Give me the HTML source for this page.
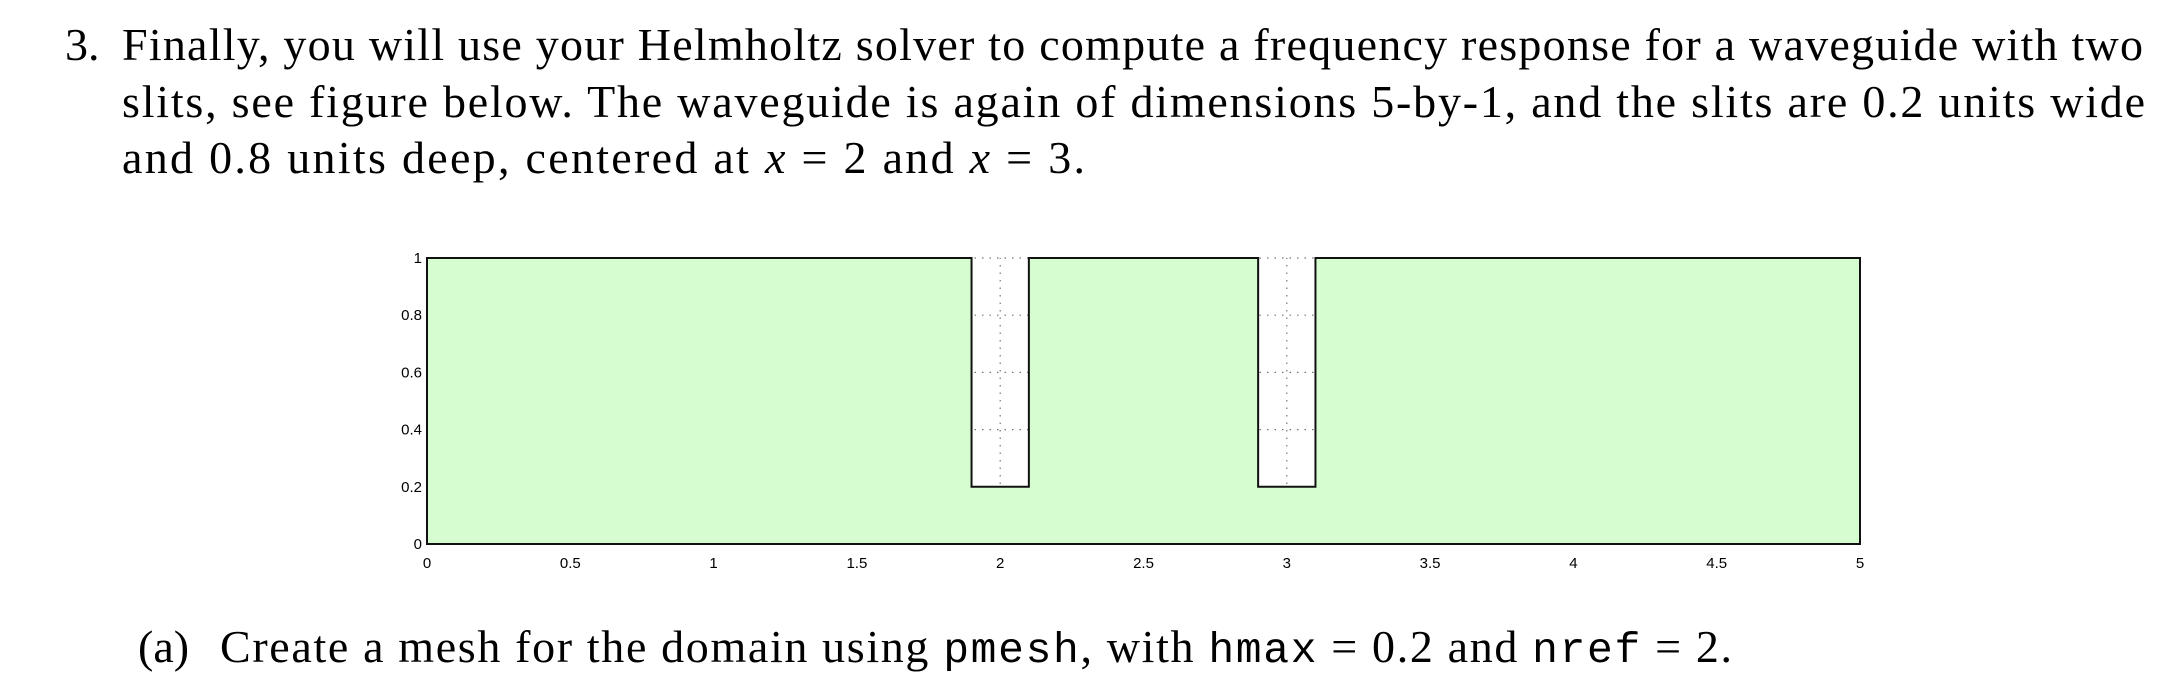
<!DOCTYPE html>
<html><head><meta charset="utf-8"><style>
html,body{margin:0;padding:0;background:#fff;width:2184px;height:686px;overflow:hidden}
svg{display:block}
.tx{font-family:"Liberation Serif",serif;font-size:46px;fill:#000}
.mono{font-family:"Liberation Mono",monospace;font-size:43px}
.tick{font-family:"Liberation Sans",sans-serif;font-size:15px;fill:#000}
</style></head><body>
<svg id="fig" width="2184" height="686" viewBox="0 0 2184 686" xmlns="http://www.w3.org/2000/svg">
  <text class="tx" x="65" y="60">3.</text>
  <text class="tx" x="122" y="60" textLength="2021" lengthAdjust="spacing">Finally, you will use your Helmholtz solver to compute a frequency response for a waveguide with two</text>
  <text class="tx" x="122" y="117" textLength="2023" lengthAdjust="spacing">slits, see figure below.  The waveguide is again of dimensions 5-by-1, and the slits are 0.2 units wide</text>
  <text class="tx" x="122" y="173" textLength="963" lengthAdjust="spacing">and 0.8 units deep, centered at <tspan font-style="italic">x</tspan> = 2 and <tspan font-style="italic">x</tspan> = 3.</text>
  <g id="chart"></g>
  <text class="tx" x="138" y="662">(a)</text>
  <text class="tx" x="220" y="662" textLength="1512" lengthAdjust="spacing">Create a mesh for the domain using <tspan class="mono">pmesh</tspan>, with <tspan class="mono">hmax</tspan> = 0.2 and <tspan class="mono">nref</tspan> = 2.</text>
</svg>
<script>
const xTicks=[0,0.5,1,1.5,2,2.5,3,3.5,4,4.5,5];
const xTickLabels=["0","0.5","1","1.5","2","2.5","3","3.5","4","4.5","5"];
const yTicks=[0,0.2,0.4,0.6,0.8,1];
const yTickLabels=["0","0.2","0.4","0.6","0.8","1"];
const domainX=[0,5];
const domainY=[0,1];
const slitCenters=[2,3];
const slitWidth=[0.2];
const slitDepth=[0.8];
const X0=427,X1=1860,Y0=544,Y1=258;
const sx=v=>X0+(v-domainX[0])/(domainX[1]-domainX[0])*(X1-X0);
const sy=v=>Y0-(v-domainY[0])/(domainY[1]-domainY[0])*(Y0-Y1);
const NS='http://www.w3.org/2000/svg';
const g=document.getElementById('chart');
function mk(t,a){const e=document.createElementNS(NS,t);for(const k in a)e.setAttribute(k,a[k]);g.appendChild(e);return e;}
xTicks.forEach(v=>{const e=mk('line',{x1:sx(v),x2:sx(v),y1:Y0,y2:Y1,stroke:'#777','stroke-width':1.2,'stroke-dasharray':'1.5 6'});

});
yTicks.forEach(v=>{const e=mk('line',{x1:X0,x2:X1,y1:sy(v),y2:sy(v),stroke:'#777','stroke-width':1.2,'stroke-dasharray':'1.5 6'});

});
const w=slitWidth[0],bot=domainY[1]-slitDepth[0];
let pts=[[domainX[0],domainY[0]],[domainX[1],domainY[0]],[domainX[1],domainY[1]]];
slitCenters.slice().reverse().forEach(c=>{pts.push([c+w/2,domainY[1]],[c+w/2,bot],[c-w/2,bot],[c-w/2,domainY[1]]);});
pts.push([domainX[0],domainY[1]]);
const poly=mk('polygon',{points:pts.map(p=>sx(p[0])+','+sy(p[1])).join(' '),fill:'#d5fdcf',stroke:'#111','stroke-width':2});


xTicks.forEach((v,i)=>{const t=mk('text',{x:sx(v),y:Y0+24,'text-anchor':'middle',class:'tick'});t.textContent=xTickLabels[i];

});
yTicks.forEach((v,i)=>{const t=mk('text',{x:X0-5,y:sy(v)+5,'text-anchor':'end',class:'tick'});t.textContent=yTickLabels[i];

});
</script>
</body></html>
